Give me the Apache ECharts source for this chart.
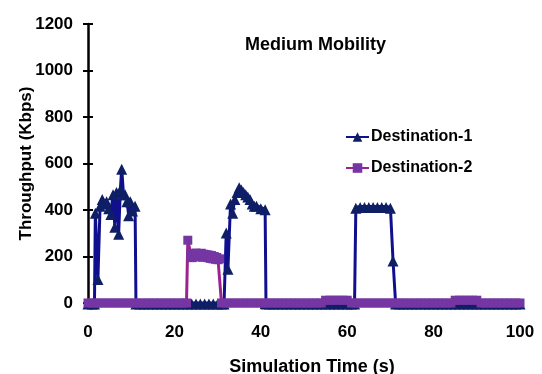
<!DOCTYPE html>
<html>
<head>
<meta charset="utf-8">
<script src="https://cdn.jsdelivr.net/npm/echarts@6/dist/echarts.min.js"></script>
<style>html,body{margin:0;padding:0;background:#fff}#c{width:542px;height:374px}</style>
</head>
<body>
<div id="c"></div>
<script>
var titleText = 'Medium Mobility';
var xName = 'Simulation Time (s)';
var yName = 'Throughput (Kbps)';
var seriesNames = ['Destination-1', 'Destination-2'];
var xTicks = [0, 20, 40, 60, 80, 100];
var yTicks = [0, 200, 400, 600, 800, 1000, 1200];

var dest1 = [
  [0,0],[1,0],[1.5,0],[1.7,390],[2.3,105],[2.8,420],[3.3,450],[3.8,430],[4.3,440],[4.8,410],
  [5.3,385],[5.8,470],[6.2,330],[6.6,480],[7.1,300],[7.5,490],[7.8,580],[8.2,470],[8.6,470],
  [9,440],[9.4,380],[9.8,440],[10.3,400],[10.9,420],[11.1,0],
  [12,0],[13,0],[14,0],[15,0],[16,0],[17,0],[18,0],[19,0],[20,0],[21,0],[22,0],
  [23,0],[24,0],[25,0],[26,0],[27,0],[28,0],[29,0],[30,0],[31,0],
  [31.5,0],[32,305],[32.4,150],[33,430],[33.5,390],[34,450],[34.5,480],[35,500],
  [35.5,490],[36,480],[36.5,470],[37,460],[37.5,450],[38,430],[38.5,420],[39,420],
  [40,410],[41,405],[41.2,0],
  [42,0],[43,0],[44,0],[45,0],[46,0],[47,0],[48,0],[49,0],[50,0],[51,0],[52,0],
  [53,0],[54,0],[55,0],[56,0],[57,0],[58,0],[59,0],[60,0],[61,0],
  [61.7,0],[62,412],[63,415],[64,415],[65,415],[66,415],[67,415],[68,415],[69,415],
  [70,412],[70.6,185],[71.2,0],
  [72,0],[73,0],[74,0],[75,0],[76,0],[77,0],[78,0],[79,0],[80,0],[81,0],[82,0],
  [83,0],[84,0],[85,0],[86,0],[87,0],[88,0],[89,0],[90,0],[91,0],[92,0],[93,0],
  [94,0],[95,0],[96,0],[97,0],[98,0],[99,0],[100,0]
];

var dest2 = [
  [0,0],[1,0],[2,0],[3,0],[4,0],[5,0],[6,0],[7,0],[8,0],[9,0],[10,0],[11,0],
  [12,0],[13,0],[14,0],[15,0],[16,0],[17,0],[18,0],[19,0],[20,0],[21,0],[22,0],
  [22.8,0],[23.1,270],[23.8,210],[24.1,195],[24.4,212],[24.7,200],[25,215],[25.3,198],
  [25.6,212],[25.9,200],[26.2,214],[26.5,197],[26.8,210],[27.1,198],[27.4,208],[27.7,195],
  [28,206],[28.3,192],[28.6,204],[28.9,190],[29.2,200],[29.5,188],[29.8,196],[30.1,186],
  [30.5,190],[30.9,0],
  [32,0],[33,0],[34,0],[35,0],[36,0],[37,0],[38,0],[39,0],[40,0],[41,0],[42,0],
  [43,0],[44,0],[45,0],[46,0],[47,0],[48,0],[49,0],[50,0],[51,0],[52,0],[53,0],
  [54,0],[55,12],[56,12],[57,12],[58,12],[59,12],[60,12],[61,0],
  [62,0],[63,0],[64,0],[65,0],[66,0],[67,0],[68,0],[69,0],[70,0],[71,0],[72,0],
  [73,0],[74,0],[75,0],[76,0],[77,0],[78,0],[79,0],[80,0],[81,0],[82,0],[83,0],
  [84,0],[85,12],[86,12],[87,12],[88,12],[89,12],[90,12],[91,0],
  [92,0],[93,0],[94,0],[95,0],[96,0],[97,0],[98,0],[99,0],[100,0]
];

var FONT = '"Liberation Sans", Arial, sans-serif';
var chart = echarts.init(document.getElementById('c'));
var yCommon = {
  type: 'value', min: yTicks[0], max: yTicks[yTicks.length - 1],
  interval: yTicks[1] - yTicks[0], splitLine: { show: false }
};
chart.setOption({
  animation: false,
  backgroundColor: '#fff',
  title: {
    text: titleText, left: 245, top: 36, padding: 0,
    textStyle: { fontFamily: FONT, fontSize: 18, fontWeight: 'bold', color: '#000' }
  },
  legend: {
    data: seriesNames, orient: 'vertical', left: 345, top: 129, padding: 0,
    itemWidth: 23, itemHeight: 12, itemGap: 15,
    textStyle: { fontFamily: FONT, fontSize: 16, fontWeight: 'bold', color: '#000', padding: [0,0,0,-3], lineHeight: 16 }
  },
  grid: { left: 88, right: 22, top: 24, bottom: 71, containLabel: false, outerBoundsMode: 'none' },
  xAxis: {
    type: 'value', min: xTicks[0], max: xTicks[xTicks.length - 1], interval: xTicks[1] - xTicks[0],
    name: xName, nameLocation: 'middle', nameGap: 55,
    nameTextStyle: { fontFamily: FONT, fontSize: 18, fontWeight: 'bold', color: '#000', padding: [0, 0, 0, 16] },
    axisLine: { lineStyle: { color: '#000', width: 1.5 } },
    axisTick: { show: true, length: 6, lineStyle: { color: '#000', width: 1.5 } },
    axisLabel: { margin: 21, fontFamily: FONT, fontSize: 17, fontWeight: 'bold', color: '#000' },
    splitLine: { show: false }
  },
  yAxis: [
    Object.assign({}, yCommon, {
      name: yName, nameLocation: 'middle', nameGap: 53, nameRotate: 90, nameMoveOverlap: false,
      nameTextStyle: { fontFamily: FONT, fontSize: 17, fontWeight: 'bold', color: '#000' },
      axisLine: { show: true, lineStyle: { color: '#000', width: 2.5 } },
      axisTick: { show: true, length: 5, lineStyle: { color: '#000', width: 2 } },
      axisLabel: { margin: 15, fontFamily: FONT, fontSize: 17, fontWeight: 'bold', color: '#000',
        formatter: function (v) { return String(v); } }
    }),
    Object.assign({}, yCommon, {
      position: 'left',
      axisLine: { show: false },
      axisTick: { show: true, inside: true, length: 5, lineStyle: { color: '#000', width: 2 } },
      axisLabel: { show: false }
    })
  ],
  series: [
    {
      name: seriesNames[0], type: 'line', data: dest1, yAxisIndex: 0,
      symbol: 'triangle', symbolSize: 11, showAllSymbol: true, symbolOffset: [0, 1],
      lineStyle: { color: '#10108f', width: 3 },
      itemStyle: { color: '#0f1f66' }
    },
    {
      name: seriesNames[1], type: 'line', data: dest2, yAxisIndex: 0,
      symbol: 'rect', symbolSize: 9, showAllSymbol: true,
      lineStyle: { color: '#9c2290', width: 3 },
      itemStyle: { color: '#7536a3' }
    }
  ]
});
</script>
</body>
</html>
